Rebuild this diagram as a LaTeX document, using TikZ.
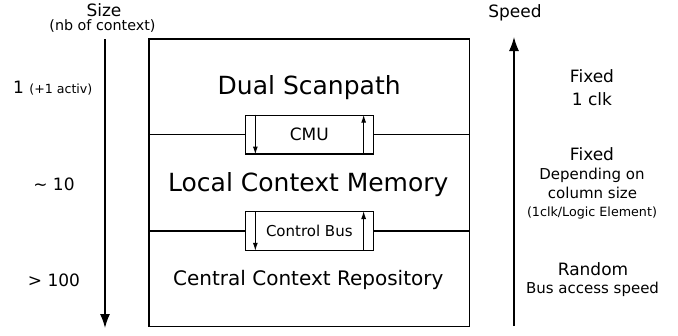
\documentclass[tikz,border=0pt]{standalone}
\usepackage{fontspec}
\setmainfont{DejaVu Sans}
\usetikzlibrary{arrows.meta}

\newcommand{\fs}[1]{\fontsize{#1}{#1}\selectfont}

\tikzset{
  txt/.style={anchor=base, inner sep=0pt},
  unitbox/.style={draw, line width=1.3pt, minimum width=128pt, minimum height=38.5pt, inner sep=0pt},
  bigarrow/.style={line width=1.3pt, -{Latex[length=14pt,width=10pt]}},
  smallarrow/.style={line width=1.1pt, -{Latex[length=8pt,width=5pt]}}
}

\begin{document}
\begin{tikzpicture}[x=1pt,y=-1pt]
\useasboundingbox (0,0) rectangle (678,335);

%main box
\node[draw, line width=1.3pt, minimum width=320.5pt, minimum height=287.5pt, inner sep=0pt] (chip) at (309.25,182.75) {};

%size axis (left)
\node[txt] (size)  at (104,16.5) {\fs{17}Size};
\node[txt] (nbctx) at (102.5,30) {\fs{14.3}(nb of context)};
\coordinate (sizetop) at (105,39);
\coordinate (sizebot) at (105,328);
\draw[bigarrow] (sizetop) -- (sizebot);

\node[txt, anchor=base west] (sz1) at (13,93) {\fs{17}1 {\fs{12.6}(+1 activ)}};
\node[txt] (sz2) at (54,190) {\fs{17}\textasciitilde{} 10};
\node[txt] (sz3) at (54,286) {\fs{17}> 100};

%levels
\node[txt] (dual)  at (309.2,94)  {\fs{25}Dual Scanpath};
\node[txt] (local) at (308.3,191) {\fs{25}Local Context Memory};
\node[txt] (ccr)   at (308.3,285) {\fs{20}Central Context Repository};

\node[unitbox] (cmu) at (309.3,134.6) {\fs{17}CMU};
\node[unitbox] (cbus) at (309.3,230.9) {\fs{15}Control Bus};

\draw[line width=1.3pt] (cmu.west) -- (cmu.west -| chip.west);
\draw[line width=1.3pt] (cmu.east) -- (cmu.east -| chip.east);
\draw[line width=1.3pt] (cbus.west) -- (cbus.west -| chip.west);
\draw[line width=1.3pt] (cbus.east) -- (cbus.east -| chip.east);

\draw[smallarrow] ([xshift=10.7pt]cmu.north west) -- ([xshift=10.7pt]cmu.south west);
\draw[smallarrow] ([xshift=-10.3pt]cmu.south east) -- ([xshift=-10.3pt]cmu.north east);
\draw[smallarrow] ([xshift=10.7pt]cbus.north west) -- ([xshift=10.7pt]cbus.south west);
\draw[smallarrow] ([xshift=-10.3pt]cbus.south east) -- ([xshift=-10.3pt]cbus.north east);

%speed axis (right)
\node[txt] (speed) at (515,17.3) {\fs{17}Speed};
\coordinate (spdbot) at (514,326);
\coordinate (spdtop) at (514,37);
\draw[bigarrow] (spdbot) -- (spdtop);

\node[txt] (fix1)  at (592,82.7)  {\fs{17}Fixed};
\node[txt] (clk1)  at (592,105)   {\fs{17}1 clk};

\node[txt] (fix2)  at (592,160.7) {\fs{17}Fixed};
\node[txt] (dep)   at (592,179)   {\fs{15}Depending on};
\node[txt] (col)   at (592.5,198.3) {\fs{15}column size};
\node[txt] (perle) at (592,216.7) {\fs{12.7}(1clk/Logic Element)};

\node[txt] (rand)  at (593,275.7) {\fs{17}Random};
\node[txt] (bus)   at (592.5,293.3) {\fs{15}Bus access speed};

\end{tikzpicture}
\end{document}
